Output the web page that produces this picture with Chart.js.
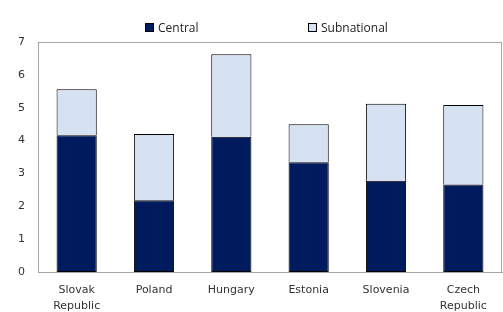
<!DOCTYPE html>
<html>
<head>
<meta charset="utf-8">
<script src="https://cdn.jsdelivr.net/npm/chart.js@4"></script>
<style>
  body { margin: 0; background: #fff; }
  #wrap { position: relative; width: 503px; height: 312px; }
  .legend { position: absolute; top: 19px; font: 12px "Open Sans", sans-serif; color: #222; display: flex; align-items: center; }
  .legend span.box { display: inline-block; width: 7px; height: 7px; border: 1px solid #000; margin-right: 4px; }
</style>
</head>
<body>
<div id="wrap">
  <canvas id="myChart" width="503" height="312"></canvas>
  <div class="legend" style="left:145px"><span class="box" style="background:#001a5e"></span>Central</div>
  <div class="legend" style="left:308px"><span class="box" style="background:#d6e2f1"></span>Subnational</div>
</div>
<script>
// values
const countries = [["Slovak", "Republic"], "Poland", "Hungary", "Estonia", "Slovenia", ["Czech", "Republic"]];
const central = [4.16, 2.18, 4.12, 3.34, 2.78, 2.66];
const subnational = [1.40, 2.02, 2.51, 1.16, 2.34, 2.42];
const yTicks = [0, 1, 2, 3, 4, 5, 6, 7];

// gray frame round the plot area
const frame = {
    id: 'frame',
    afterDraw(chart) {
        const a = chart.chartArea, ctx = chart.ctx;
        ctx.save();
        ctx.strokeStyle = '#a6a6a6';
        ctx.lineWidth = 1;
        ctx.strokeRect(a.left + 0.5, a.top + 0.5, a.right - a.left - 1, a.bottom - a.top);
        ctx.restore();
    }
};

var context = document.getElementById("myChart").getContext('2d');
var myChart = new Chart(context, {
    type: 'bar',
    data: {
        labels: countries,
        datasets: [{
            label: 'Central',
            data: central,
            backgroundColor: '#001a5e',
            borderColor: '#000000',
            borderWidth: 1,
            borderSkipped: false
        }, {
            label: 'Subnational',
            data: subnational,
            backgroundColor: '#d6e2f1',
            borderColor: '#000000',
            borderWidth: { top: 1, left: 1, right: 1, bottom: 0 },
            borderSkipped: false
        }]
    },
    options: {
        responsive: false,
        animation: false,
        layout: { padding: { top: 42, right: 1, left: 0, bottom: 0 } },
        plugins: { legend: { display: false }, tooltip: { enabled: false } },
        datasets: { bar: { barPercentage: 0.52, categoryPercentage: 1 } },
        scales: {
            x: {
                stacked: true,
                grid: { display: false, drawTicks: false },
                border: { color: '#a6a6a6' },
                afterFit(scale) { scale.height = 40; },
                ticks: { color: '#333', font: { family: 'DejaVu Sans', size: 11, lineHeight: 1.45 }, maxRotation: 0, padding: 10 },
            },
            y: {
                stacked: true,
                min: 0,
                max: 7,
                grid: { display: false, drawTicks: false },
                border: { color: '#a6a6a6' },
                afterFit(scale) { scale.width = 38; },
                afterBuildTicks(scale) { scale.ticks = yTicks.map(v => ({ value: v })); },
                ticks: { color: '#333', font: { family: 'DejaVu Sans', size: 11 }, padding: 13 },
            }
        }
    },
    plugins: [frame]
});
</script>
</body>
</html>
